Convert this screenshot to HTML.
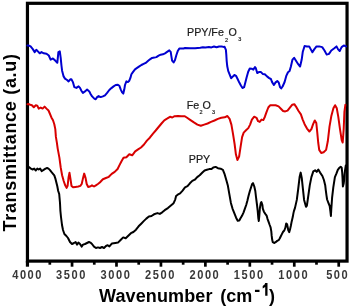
<!DOCTYPE html>
<html><head><meta charset="utf-8"><style>
html,body{margin:0;padding:0;background:#fff;}
svg{display:block;will-change:transform;}
text{font-family:"Liberation Sans",sans-serif;}
</style></head><body>
<svg width="350" height="307" viewBox="0 0 350 307">
<rect width="350" height="307" fill="#fff"/>
<rect x="27.45" y="3.3" width="319.6" height="257.8" fill="none" stroke="#000" stroke-width="3.2"/>
<g fill="none" stroke-linejoin="round" stroke-linecap="round" stroke-width="2.0">
<polyline stroke="#0000d0" points="27.4,45.6 28.4,45.4 30.6,46.4 32.8,49.1 34.7,52.1 36.3,49.8 37.9,51.4 39.7,53.3 41.5,52.1 43.8,53.3 46.5,53.7 48.8,55.5 50.6,59.6 52.9,58.5 55.2,60.6 57.3,62.8 58.4,52.1 59.8,51.4 60.7,57.8 61.4,65.0 62.1,70.7 63.6,76.4 65,78.6 67.1,80.0 68.6,81.4 70.3,79.3 71.4,79.3 72.9,82.1 74.3,87.1 76.4,87.9 78.6,86.4 80,87.9 81.4,90.7 82.9,92.9 85,91.4 87.1,89.6 89.3,91.4 90.7,94.3 92.1,96.4 94.3,98.6 95.7,99.3 97.1,97.1 98.6,96.1 100.7,97.1 102.9,96.4 105,95.3 107.1,92.9 109.3,90.0 111.4,88.1 113.6,86.4 115.7,85.0 117.9,84.7 119.3,85.7 120.7,89.3 122.1,92.4 123.3,93.6 124.3,89.3 125,85.0 126.4,81.4 127.9,82.1 129.3,80.7 130.4,77.9 131.4,74.3 132.9,72.1 135,69.3 137.1,67.9 139.3,66.4 141.4,65.0 143.6,63.9 145.7,62.9 147.9,61.0 150,59.3 152.1,57.9 154.3,57.6 156.4,57.1 158.6,55.7 160.7,54.7 162.9,54.3 165,53.3 167.1,51.9 169.3,50.4 170.7,51.9 171.4,56.4 172.1,60.7 173.6,62.4 175,60.0 176.4,55.0 177.9,50.7 179.3,48.6 181.4,48.6 183.6,48.6 185,47.9 190,48.3 195.1,48.3 200.3,47.7 202.9,47.2 205.4,47.4 208.9,46.9 211.4,47.4 214,46.5 216.6,47.2 219.1,46.5 221.7,46.5 223.4,46.9 224.6,46.8 225.9,49.8 226.3,54.6 226.7,61.1 227.2,66.0 228.2,70.9 229.5,74.1 231.1,78.2 232.8,76.6 234.4,75.0 236,75.8 237.6,79.0 239.3,82.6 240.9,85.5 242.5,88.0 244.1,87.2 245.4,82.3 246.6,77.4 248.2,71.7 249.8,68.5 251.6,68.7 253.3,69.6 255,67.0 255.9,68.4 257.2,73.0 258.9,72.1 261,72.1 262.7,73.9 264.8,74.2 267,76.4 269.2,78.1 270.9,79.0 272.1,82.1 273.9,85.0 275.6,82.4 277.3,81.1 278.7,82.4 280,87.0 281.2,88.4 282.6,86.5 284.6,82.0 286.4,75.6 288,72.2 289.6,71.0 290.9,66.5 292.5,59.6 294.1,57.8 296,60.8 298.2,64.2 300.1,66.5 301.7,59.6 302.8,51.7 304.6,46.0 306.9,46.4 309.2,46.4 310.8,49.4 312.4,52.3 314.2,49.4 316.5,46.4 319.2,46.4 322.2,47.1 324.5,50.5 326.7,54.6 329,53.9 331.3,50.5 334.3,48.2 336.5,46.4 338.1,49.4 339.7,51.0 341.6,47.1 343.8,45.5 346.1,46.4"/>
<polyline stroke="#d80000" points="27.4,104.2 28.3,104 30.3,104.7 31.9,105.2 33.8,107.2 35.8,105.2 37.3,105.6 38.7,108.6 40.7,107.6 42.6,108.6 44.6,106.6 46.5,108.6 48.5,110.5 49.8,113.5 51.4,117.4 53,120.3 54.3,124.2 55.3,129.1 55.9,136.9 56.9,142.8 57.7,148.6 59.4,157.6 60.7,167.4 62.1,175.2 63.7,181 65.2,185.3 66.6,187.9 67.6,185.9 68.6,177.1 69.5,172.8 70.5,179.1 71.5,185.9 73.1,187.3 75.4,186.9 78.3,186.5 80.3,185.9 81.7,184 82.8,179.1 84.2,173.6 85.6,178.1 86.7,184 88.1,186.9 90.1,186.5 92,185.3 94,186.5 95.9,185.3 97.9,184 99.8,182.5 102.9,179.2 105.9,178 108.8,176.8 111.7,173.9 114.7,171.9 117.6,169 119.5,165.1 121.5,161.2 123.5,157.8 126.4,157.2 129.3,154.3 132.2,155.3 135.2,151.4 138.1,149.4 141,147.5 144,144.5 146.9,140.6 149.8,137.7 152.8,133.8 155.7,130.5 158.6,127 161.5,123.5 164.3,120.3 167,118.7 170,116.8 172.3,117.5 174.6,116.2 178,116 181.4,116.2 184.8,116.2 187.1,117.8 190.5,120.1 193.9,122.4 197.4,124.6 200.8,125.8 204.2,124.6 207.6,123.5 211,121.9 214.5,120.5 217.9,118.9 221.3,117.8 224.7,117.3 227.4,116 229.6,118.9 231.4,124.6 233,133.8 234.6,144 235.9,154.3 237.4,160 239.1,156.6 240.5,147.4 242.1,137.2 243.7,132.6 246,130.3 248.3,128.1 250.1,124.6 251.9,119.6 254.2,116.7 256.5,117.8 258.1,121.2 259.7,121.9 261.5,119.6 263.3,120.1 264.9,116.7 266.5,112.1 268.3,107.5 270.1,105.3 272.9,105.3 275.6,105.3 278.6,106.4 280.9,108.7 283.1,111 285.2,111.4 287.5,110.6 289.9,107.6 292.3,104.7 294.3,104.2 296,106.6 298.4,110.8 300.9,114.4 302.6,119.3 304.6,124.2 307,128.6 309.4,131.5 311.4,129.1 313.1,124.2 314.8,120.5 316.3,123 317.3,132.8 318.2,142.5 319.2,149.9 321.2,153 323.6,152.3 326.1,149.9 327.8,141.3 329.5,126.7 331.4,115.7 333.4,108.3 335.1,105.2 336.8,108.3 338.3,116.9 340,129.1 341.7,140.1 342.7,142.5 343.7,129.1 344.4,112 345.4,104.7"/>
<polyline stroke="#000" points="27.4,166.8 28.9,167.0 30.9,168.6 32.8,169.5 34.2,168.6 35.8,170.5 37.3,168.6 38.7,169.5 40.1,168.6 41.6,171.1 43.6,169.9 45.5,168.6 47.1,168.0 48.5,168.6 49.8,169.9 51.4,171.9 53,173.8 54.3,175.4 55.3,178.3 56.3,182.2 57.3,186.2 58.2,191.0 59.2,194.0 60,203.0 60.4,211.0 61,217.0 62,225.0 63,230.0 64.4,234.0 66.4,236.0 68,238.0 70,242.0 72,244.0 74,243.0 75.6,242.0 77,244.6 78.4,242.6 80,244.0 81.6,246.6 83,244.6 85,244.0 87,243.0 89,242.0 90.4,242.6 92,244.0 94,246.6 96,248.0 98,247.4 100,248.0 102,247.0 104,248.0 106,246.0 107.7,245.2 109.4,246.4 112,243.4 115.4,242.9 118,242.6 120.6,240.0 123.2,237.4 125.7,238.3 128.3,235.7 130.9,233.2 133.4,232.0 136,229.7 138.6,226.3 141.2,223.7 143.7,221.1 146.3,218.6 148.9,216.5 151.5,216.0 154,214.3 157.4,213.1 159.8,213.9 162.2,212.3 164.7,210.2 167.9,208.1 171.2,205.3 173.6,203.2 175.2,199.6 176.1,196.0 177.7,194.7 180.1,193.4 182.6,190.6 185,187.4 187.5,186.2 189.9,183.3 192.3,180.9 194.8,179.7 197.2,177.1 199.7,175.2 202.4,172.5 204.6,170.5 206.9,169.8 209.2,169.1 211.5,169.1 213.3,167.5 215.6,166.9 217.9,168.2 220.6,168.7 222.9,169.8 224.7,174.4 226.3,180.1 227.9,185.8 229.3,193.8 230.9,202.9 232.5,208.6 234.3,213.1 236.1,217.7 237.7,220.7 239.3,220.5 240.5,218.3 242,215.8 243.6,212.3 244.9,208.7 246.2,205 247.3,201 248.5,196.1 249.8,191.3 251.1,187.2 252.2,183.9 253,183.1 254.3,186.5 255.3,191.0 256,197.0 256.9,204.0 257.7,211.0 258.3,218.0 258.8,221.0 259.3,216.0 259.9,208.0 260.8,203.0 261.4,202.0 262.4,205.0 262.8,208.6 263.9,211.7 265.5,214.1 266.6,215.6 267.5,218.8 268.6,221.9 269.7,225.0 270.6,227.3 271.3,231.3 271.7,235.9 272.2,239.8 272.8,242.2 274.1,243.0 275.6,242.2 277.2,240.9 278.6,240.2 279.7,238.5 280.8,236.2 282,233.9 283.1,231.7 284.3,230.5 285.4,227.7 286.2,223.5 287.1,224.3 287.7,227.1 288.2,230.0 289.2,232.2 290,229.4 290.8,226.0 291.7,221.4 292.8,216.8 293.4,213.4 293.9,211.1 295,207.9 296.8,199.9 298.2,189.0 299.6,177.1 300.7,172.6 301.8,178.3 303,189.7 304.1,199.9 306,206.8 306.9,205.6 308.2,196.5 309.8,185.1 311.4,177.1 313.3,171.4 315.1,170.3 316.7,171.9 318.3,169.6 320.1,172.6 322.4,176.0 323.9,180.0 325.2,185.2 325.8,190.4 326.5,195.6 327.1,199.5 328.4,202.8 329.7,206.0 330.4,211.3 330.9,216 331.3,209 332.1,197.7 333.3,187.4 334.9,177.1 336.5,173.4 337.8,169.8 339.3,167.8 340.7,166.8 341.7,167.8 342.2,172.7 342.5,177.6 342.7,182.5 342.9,186.4 343.7,183.4 344.2,179.5 344.5,174.6 345.1,169.8 345.8,165.5"/>
</g>
<line x1="27.45" y1="261" x2="27.45" y2="266.7" stroke="#000" stroke-width="3.2"/>
<g stroke="#000" stroke-width="2.7"><line x1="49.82" y1="261" x2="49.82" y2="264.7"/><line x1="72.05" y1="261" x2="72.05" y2="266.7"/><line x1="94.27" y1="261" x2="94.27" y2="264.7"/><line x1="116.49" y1="261" x2="116.49" y2="266.7"/><line x1="138.71" y1="261" x2="138.71" y2="264.7"/><line x1="160.94" y1="261" x2="160.94" y2="266.7"/><line x1="183.16" y1="261" x2="183.16" y2="264.7"/><line x1="205.38" y1="261" x2="205.38" y2="266.7"/><line x1="227.60" y1="261" x2="227.60" y2="264.7"/><line x1="249.82" y1="261" x2="249.82" y2="266.7"/><line x1="272.05" y1="261" x2="272.05" y2="264.7"/><line x1="294.27" y1="261" x2="294.27" y2="266.7"/><line x1="316.49" y1="261" x2="316.49" y2="264.7"/><line x1="338.72" y1="261" x2="338.72" y2="266.7"/></g>
<g font-size="12.3" font-weight="bold" fill="#383838" letter-spacing="1.75"><text transform="translate(27.60,279) scale(0.9,1)" text-anchor="middle">4000</text><text transform="translate(71.55,279) scale(0.9,1)" text-anchor="middle">3500</text><text transform="translate(115.99,279) scale(0.9,1)" text-anchor="middle">3000</text><text transform="translate(160.44,279) scale(0.9,1)" text-anchor="middle">2500</text><text transform="translate(204.88,279) scale(0.9,1)" text-anchor="middle">2000</text><text transform="translate(249.32,279) scale(0.9,1)" text-anchor="middle">1500</text><text transform="translate(293.77,279) scale(0.9,1)" text-anchor="middle">1000</text><text transform="translate(337.72,279) scale(0.9,1)" text-anchor="middle">500</text></g>
<text x="99" y="302" font-size="18" font-weight="bold" fill="#000" letter-spacing="0.12">Wavenumber</text>
<text x="220.3" y="302" font-size="18" font-weight="bold" fill="#000">(cm</text>
<text x="254.3" y="295.7" font-size="18" font-weight="bold" fill="#000">-</text>
<polygon fill="#000" points="265.2,283.1 267.5,283.1 267.5,295.7 265.2,295.7 265.2,287 262.7,288.4 262.7,286.1 264.6,284.6"/>
<text x="269.1" y="302" font-size="18" font-weight="bold" fill="#000">)</text>
<text transform="translate(15.8,231.5) rotate(-90)" font-size="18" font-weight="bold" fill="#000" letter-spacing="0.69">Transmittance (a.u)</text>
<g font-size="10.7" fill="#1a1a1a" stroke="#1a1a1a" stroke-width="0.2">
<text x="187" y="36">PPY/Fe</text><text x="225" y="41.5" font-size="5.5">2</text><text x="228.5" y="36">O</text><text x="238.2" y="41.2" font-size="5.5">3</text>
<text x="186.7" y="108.6">Fe</text><text x="199.5" y="114" font-size="5.5">2</text><text x="202.5" y="108.6">O</text><text x="212" y="113.6" font-size="5.5">3</text>
<text x="188.8" y="163.1">PPY</text>
</g>
</svg>
</body></html>
